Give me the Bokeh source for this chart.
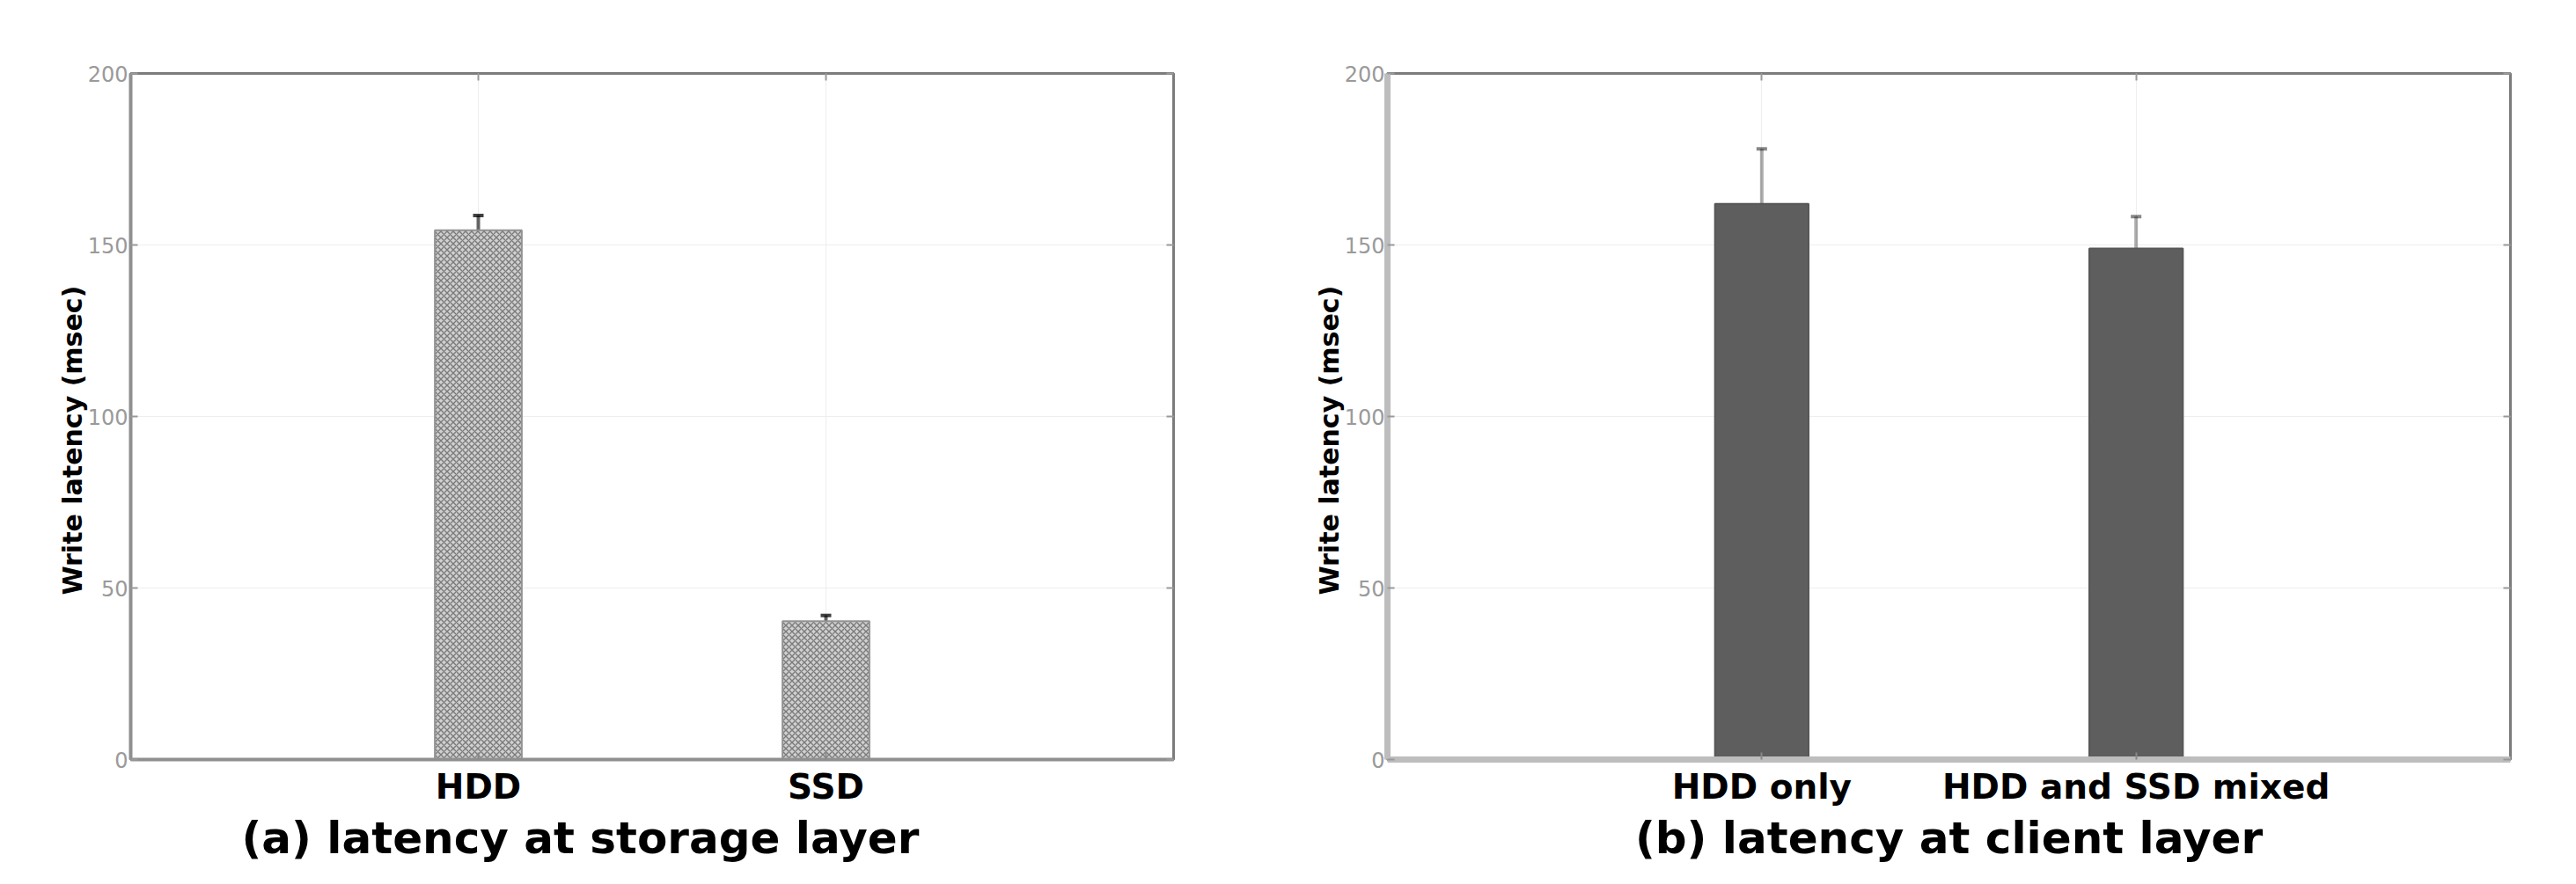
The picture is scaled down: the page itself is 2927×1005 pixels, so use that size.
from bokeh.plotting import figure
from bokeh.models import (FactorRange, Range1d, FixedTicker, Whisker, ColumnDataSource,
                          Title, LinearAxis, CategoricalAxis, TeeHead, CustomLabelingPolicy)
from bokeh.layouts import row
from bokeh.embed import file_html
from bokeh.resources import INLINE

# ---- data ----
storage_cats = ["HDD", "SSD"]
storage_lat = [154.3, 40.3]
storage_err = [4.3, 1.7]

client_cats = ["HDD only", "HDD and SSD mixed"]
client_lat = [162.0, 149.0]
client_err = [16.0, 9.3]

y_ticks = [0, 50, 100, 150, 200]
y_label = "Write latency (msec)"
title_a = "(a) latency at storage layer"
title_b = "(b) latency at client layer"

FONT = "DejaVu Sans"

HIDE_LABELS = "for (const i of indices) { indices.unset(i) }\nreturn indices"


def make_panel(cats, vals, errs, title, frame_w, b_left, b_right, hatched,
               title_align, title_offset, edge_color, edge_width):
    src = ColumnDataSource(dict(
        cat=cats, val=vals,
        lo=[v - e for v, e in zip(vals, errs)],
        hi=[v + e for v, e in zip(vals, errs)],
    ))
    p = figure(
        x_range=FactorRange(factors=cats, range_padding=0.5, range_padding_units="absolute"),
        y_range=Range1d(0, 200),
        frame_width=frame_w, frame_height=780,
        min_border_left=b_left, min_border_right=b_right,
        min_border_top=83, min_border_bottom=125,
        output_backend="svg", toolbar_location=None,
    )
    p.background_fill_color = "white"
    p.border_fill_color = "white"
    p.outline_line_color = "#7c7c7c"
    p.outline_line_width = 3

    p.xgrid.grid_line_color = "#eeeeee"
    p.ygrid.grid_line_color = "#eeeeee"
    p.xgrid.grid_line_width = 1
    p.ygrid.grid_line_width = 1

    if hatched:
        p.vbar(x="cat", top="val", width=0.25, source=src,
               fill_color="#d0d0d0", line_color="#939393", line_width=2,
               hatch_pattern="diagonal_cross", hatch_color="#7a7a7a",
               hatch_scale=7, hatch_weight=1.4)
        wcol, walpha = "black", 0.6
    else:
        p.vbar(x="cat", top="val", width=0.25, source=src,
               fill_color="#5e5e5e", line_color="#575757", line_width=2)
        wcol, walpha = "black", 0.32

    w = Whisker(base="cat", upper="hi", lower="lo", source=src,
                line_color=wcol, line_alpha=walpha, line_width=4,
                upper_head=TeeHead(size=12, line_color=wcol, line_alpha=walpha + 0.15, line_width=4),
                lower_head=TeeHead(size=12, line_color=wcol, line_alpha=walpha + 0.15, line_width=4))
    p.add_layout(w)

    # y axis (left)
    ya = p.yaxis[0]
    ya.ticker = FixedTicker(ticks=y_ticks)
    ya.axis_line_color = edge_color
    ya.axis_line_width = edge_width
    ya.major_tick_in = 8
    ya.major_tick_out = 0
    ya.minor_tick_line_color = None
    ya.major_tick_line_color = "#999999"
    ya.major_tick_line_width = 2
    ya.major_label_text_font = FONT
    ya.major_label_text_font_size = "24px"
    ya.major_label_text_color = "#9a9a9a"
    ya.major_label_standoff = 3

    # x axis (below)
    xa = p.xaxis[0]
    xa.axis_line_color = edge_color
    xa.axis_line_width = edge_width
    xa.major_tick_in = 8
    xa.major_tick_out = 0
    xa.major_tick_line_color = "#888888"
    xa.major_tick_line_width = 2
    xa.major_label_text_font = FONT
    xa.major_label_text_font_size = "39px"
    xa.major_label_text_font_style = "bold"
    xa.major_label_text_color = "black"
    xa.major_label_standoff = 8

    # mirrored ticks on right and top (labels filtered out)
    ra = LinearAxis(ticker=FixedTicker(ticks=y_ticks),
                    major_label_policy=CustomLabelingPolicy(code=HIDE_LABELS),
                    axis_line_color=None, major_tick_in=8, major_tick_out=0,
                    major_tick_line_color="#999999", major_tick_line_width=2,
                    minor_tick_line_color=None, major_label_standoff=0)
    p.add_layout(ra, "right")
    ta = CategoricalAxis(major_label_policy=CustomLabelingPolicy(code=HIDE_LABELS),
                         axis_line_color=None,
                         major_tick_in=8, major_tick_out=0, major_tick_line_color="#999999",
                         major_tick_line_width=2, major_label_standoff=0)
    p.add_layout(ta, "above")

    # y-axis label as a left-side title (offset from the bottom, like the reference)
    yl = Title(text=y_label, align="left", offset=187,
               text_font=FONT, text_font_size="30px", text_font_style="bold",
               text_color="black", standoff=-6)
    p.add_layout(yl, "left")

    t = Title(text=title, align=title_align, offset=title_offset,
              text_font=FONT, text_font_size="50px", text_font_style="bold",
              text_color="black", standoff=4)
    p.add_layout(t, "below")
    return p


pa = make_panel(storage_cats, storage_lat, storage_err, title_a, 1185, 148, 107,
                True, "left", 126, "#8f8f8f", 4)
pb = make_panel(client_cats, client_lat, client_err, title_b, 1276, 136, 60,
                False, "center", 0, "#bdbdbd", 7)

layout = row(pa, pb)
open("out.html", "w").write(file_html(layout, INLINE))
